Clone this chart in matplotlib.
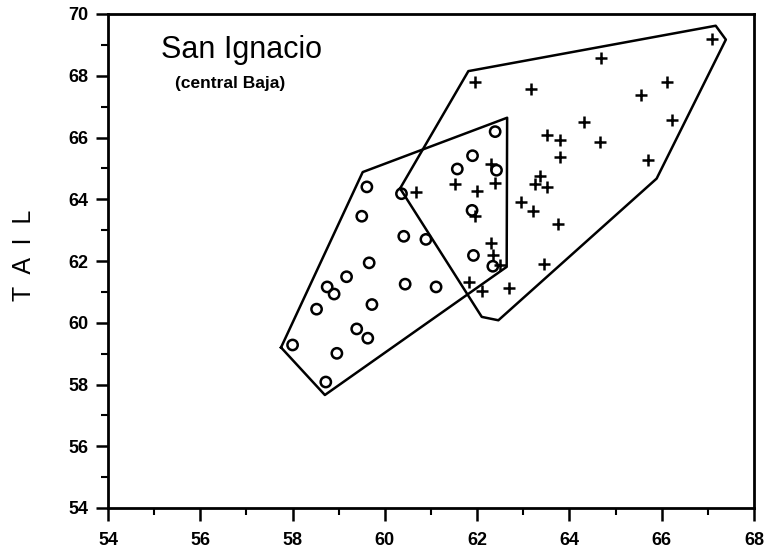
import matplotlib
matplotlib.use("Agg")
import matplotlib.pyplot as plt
from matplotlib.ticker import MultipleLocator

plt.rcParams['font.family'] = ['Liberation Sans', 'DejaVu Sans']

# Circles (o) - data points
circle_x = [59.61, 59.50, 60.36, 60.41, 59.66, 59.17, 58.75, 58.90, 58.52, 60.44,
            59.72, 59.39, 59.63, 58.00, 58.96, 58.72, 60.89, 61.11,
            62.39, 61.90, 61.57, 62.42, 61.89, 61.92, 62.34]
circle_y = [64.40, 63.45, 64.18, 62.80, 61.94, 61.49, 61.16, 60.93, 60.44, 61.25,
            60.59, 59.80, 59.50, 59.28, 59.01, 58.08, 62.70, 61.16,
            66.19, 65.41, 64.98, 64.94, 63.64, 62.18, 61.83]

# Plus (+) - data points
plus_x = [67.10, 64.69, 61.95, 63.16, 66.12, 65.56, 66.23, 64.31, 63.51, 63.79,
          64.66, 63.79, 65.71, 62.31, 61.52, 62.00, 62.39, 63.36, 63.25, 63.52,
          62.96, 63.21, 63.76, 61.95, 62.29, 62.34, 62.50, 63.45, 61.83, 62.10,
          62.69, 60.67]
plus_y = [69.20, 68.57, 67.79, 67.57, 67.79, 67.37, 66.58, 66.51, 66.07, 65.93,
          65.84, 65.37, 65.28, 65.15, 64.49, 64.27, 64.53, 64.74, 64.48, 64.40,
          63.91, 63.62, 63.21, 63.45, 62.59, 62.19, 61.86, 61.90, 61.32, 61.03,
          61.11, 64.24]

# Hull polygons
circle_hull_x = [57.75, 59.52, 62.65, 62.64, 58.70, 57.75]
circle_hull_y = [59.20, 64.88, 66.64, 61.81, 57.66, 59.20]
plus_hull_x = [60.33, 61.81, 67.17, 67.39, 65.89, 62.46, 62.10, 60.33]
plus_hull_y = [64.35, 68.15, 69.62, 69.17, 64.67, 60.08, 60.19, 64.35]

fig = plt.figure(figsize=(7.72, 5.53), dpi=100)
ax = fig.add_axes([108/772, 1-508/553, (754-108)/772, (508-14)/553])

ax.plot(circle_hull_x, circle_hull_y, color='black', lw=1.8)
ax.plot(plus_hull_x, plus_hull_y, color='black', lw=1.8)
ax.scatter(circle_x, circle_y, s=55, facecolors='none', edgecolors='black', linewidths=1.8, zorder=3)
ax.scatter(plus_x, plus_y, s=75, marker='+', color='black', linewidths=1.8, zorder=3)

ax.set_xlim(54, 68)
ax.set_ylim(54, 70)
ax.xaxis.set_major_locator(MultipleLocator(2))
ax.xaxis.set_minor_locator(MultipleLocator(1))
ax.yaxis.set_major_locator(MultipleLocator(2))
ax.yaxis.set_minor_locator(MultipleLocator(1))
ax.tick_params(which='major', direction='out', length=9, width=1.8, labelsize=13, pad=5)
ax.tick_params(which='minor', direction='out', length=5, width=1.5)
ax.tick_params(axis='x', which='major', pad=8)
for lab in ax.get_xticklabels() + ax.get_yticklabels():
    lab.set_fontweight('bold')
for sp in ax.spines.values():
    sp.set_linewidth(2)

ax.text(0.082, 0.927, 'San Ignacio', transform=ax.transAxes, fontsize=22, ha='left', va='center')
ax.text(0.104, 0.86, '(central Baja)', transform=ax.transAxes, fontsize=12.5, fontweight='bold',
        ha='left', va='center')

fig.text(24/772, 1-255/553, 'T  A  I  L', rotation=90, fontsize=18, ha='center', va='center')

fig.savefig('out.png', dpi=100)
